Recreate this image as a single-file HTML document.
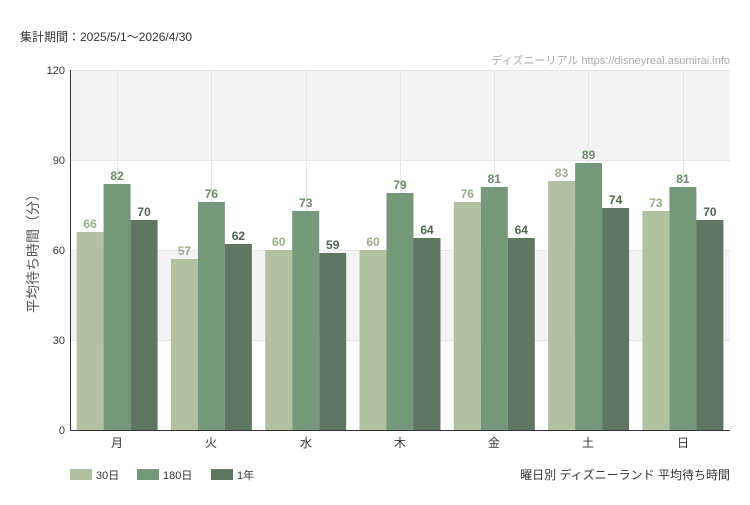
<!DOCTYPE html>
<html><head><meta charset="utf-8"><style>
body{margin:0;background:#fff;}
svg text{font-family:"Liberation Sans","Noto Sans CJK JP",sans-serif;}
.v{font-size:12px;font-weight:bold;text-anchor:middle;font-family:"Liberation Sans Narrow","Liberation Sans",sans-serif;}
.a{fill:#b3c1a3}.b{fill:#75977a}.c{fill:#5f7762}
.ta{fill:#9aab88}.tb{fill:#6a8a6a}.tc{fill:#4e6650}
</style></head><body>
<svg width="750" height="500" xmlns="http://www.w3.org/2000/svg">
<rect width="750" height="500" fill="#fff"/>
<text x="20" y="41" font-size="12" fill="#333">集計期間：2025/5/1～2026/4/30</text>
<text x="730" y="64" font-size="11" fill="#aaa" text-anchor="end">ディズニーリアル https://disneyreal.asumirai.info</text>
<rect x="70" y="70" width="660" height="90" fill="#f4f4f4"/>
<rect x="70" y="250" width="660" height="90" fill="#f4f4f4"/>
<g stroke="#e4e4e4" stroke-width="1">
<line x1="70" y1="70.5" x2="730" y2="70.5"/><line x1="70" y1="160.5" x2="730" y2="160.5"/>
<line x1="70" y1="250.5" x2="730" y2="250.5"/><line x1="70" y1="340.5" x2="730" y2="340.5"/>
<line x1="117.5" y1="70" x2="117.5" y2="430"/><line x1="211.5" y1="70" x2="211.5" y2="430"/>
<line x1="306.5" y1="70" x2="306.5" y2="430"/><line x1="400.5" y1="70" x2="400.5" y2="430"/>
<line x1="494.5" y1="70" x2="494.5" y2="430"/><line x1="588.5" y1="70" x2="588.5" y2="430"/>
<line x1="683.5" y1="70" x2="683.5" y2="430"/>
</g>
<g>
<rect class="a" x="76.6" y="232" width="27" height="198"/><rect class="b" x="103.6" y="184" width="27" height="246"/><rect class="c" x="130.6" y="220" width="27" height="210"/>
<rect class="a" x="170.9" y="259" width="27" height="171"/><rect class="b" x="197.9" y="202" width="27" height="228"/><rect class="c" x="224.9" y="244" width="27" height="186"/>
<rect class="a" x="265.2" y="250" width="27" height="180"/><rect class="b" x="292.2" y="211" width="27" height="219"/><rect class="c" x="319.2" y="253" width="27" height="177"/>
<rect class="a" x="359.5" y="250" width="27" height="180"/><rect class="b" x="386.5" y="193" width="27" height="237"/><rect class="c" x="413.5" y="238" width="27" height="192"/>
<rect class="a" x="453.8" y="202" width="27" height="228"/><rect class="b" x="480.8" y="187" width="27" height="243"/><rect class="c" x="507.8" y="238" width="27" height="192"/>
<rect class="a" x="548.1" y="181" width="27" height="249"/><rect class="b" x="575.1" y="163" width="27" height="267"/><rect class="c" x="602.1" y="208" width="27" height="222"/>
<rect class="a" x="642.4" y="211" width="27" height="219"/><rect class="b" x="669.4" y="187" width="27" height="243"/><rect class="c" x="696.4" y="220" width="27" height="210"/>
</g>
<g>
<text class="v ta" x="90.1" y="228">66</text><text class="v tb" x="117.1" y="180">82</text><text class="v tc" x="144.1" y="216">70</text>
<text class="v ta" x="184.4" y="255">57</text><text class="v tb" x="211.4" y="198">76</text><text class="v tc" x="238.4" y="240">62</text>
<text class="v ta" x="278.7" y="246">60</text><text class="v tb" x="305.7" y="207">73</text><text class="v tc" x="332.7" y="249">59</text>
<text class="v ta" x="373" y="246">60</text><text class="v tb" x="400" y="189">79</text><text class="v tc" x="427" y="234">64</text>
<text class="v ta" x="467.3" y="198">76</text><text class="v tb" x="494.3" y="183">81</text><text class="v tc" x="521.3" y="234">64</text>
<text class="v ta" x="561.6" y="177">83</text><text class="v tb" x="588.6" y="159">89</text><text class="v tc" x="615.6" y="204">74</text>
<text class="v ta" x="655.9" y="207">73</text><text class="v tb" x="682.9" y="183">81</text><text class="v tc" x="709.9" y="216">70</text>
</g>
<line x1="70.5" y1="70" x2="70.5" y2="430" stroke="#333"/>
<line x1="70" y1="430.5" x2="730" y2="430.5" stroke="#333"/>
<g font-size="11" fill="#333" text-anchor="end">
<text x="65" y="74">120</text><text x="65" y="164">90</text><text x="65" y="254">60</text><text x="65" y="344">30</text><text x="65" y="434">0</text>
</g>
<text transform="translate(38,250) rotate(-90)" font-size="14" fill="#555" text-anchor="middle">平均待ち時間（分）</text>
<g font-size="12" fill="#333" text-anchor="middle">
<text x="117" y="447">月</text><text x="211" y="447">火</text><text x="306" y="447">水</text><text x="400" y="447">木</text><text x="494" y="447">金</text><text x="588" y="447">土</text><text x="683" y="447">日</text>
</g>
<rect x="70" y="469" width="22" height="11" fill="#b3c1a3"/><text x="96" y="479" font-size="11" fill="#333">30日</text>
<rect x="137" y="469" width="22" height="11" fill="#75977a"/><text x="163" y="479" font-size="11" fill="#333">180日</text>
<rect x="211" y="469" width="22" height="11" fill="#5f7762"/><text x="237" y="479" font-size="11" fill="#333">1年</text>
<text x="730" y="479" font-size="12" fill="#333" text-anchor="end">曜日別 ディズニーランド 平均待ち時間</text>
</svg>
</body></html>
